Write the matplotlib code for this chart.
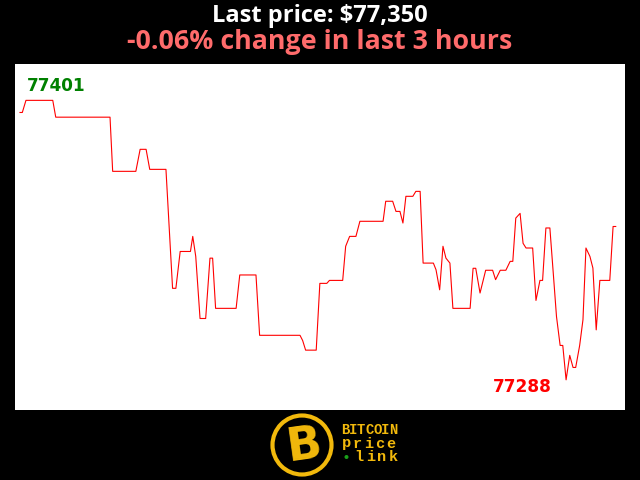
import matplotlib
matplotlib.use("Agg")
import matplotlib.pyplot as plt
from matplotlib.patches import Ellipse

# minutes since start of the 3-hour window (vertices of the price line)
minutes = [0.0, 0.7, 1.8, 9.9, 10.8, 27.2, 28.0, 35.0, 36.3, 38.1, 39.2, 44.1,
           46.1, 47.1, 48.4, 51.5, 52.2, 53.1, 54.4, 56.1, 57.4, 58.2, 59.1,
           65.3, 66.4, 71.3, 72.4, 84.6, 85.4, 86.3, 89.5, 90.6, 92.7, 93.5,
           97.5, 98.4, 99.6, 101.5, 102.7, 109.7, 110.5, 112.6, 113.6, 114.8,
           115.7, 116.6, 118.7, 119.6, 120.9, 121.8, 124.9, 125.7, 126.8,
           127.8, 128.7, 129.9, 130.8, 136.0, 136.9, 137.7, 139.0, 140.7,
           142.8, 143.7, 145.1, 146.8, 148.1, 148.9, 149.8, 151.1, 152.0,
           152.9, 154.9, 155.9, 157.1, 157.9, 158.9, 160.1, 161.2, 162.1,
           163.2, 164.0, 165.0, 166.1, 167.1, 167.9, 169.1, 170.1, 171.0,
           172.2, 173.1, 174.1, 175.2, 178.2, 179.2, 180.0]
prices = [77396.1, 77396.1, 77401.0, 77401.0, 77394.2, 77394.2, 77372.3, 77372.3,
          77381.2, 77381.2, 77373.1, 77373.1, 77325.0, 77325.0, 77339.9, 77339.9,
          77346.0, 77337.9, 77312.8, 77312.8, 77337.2, 77337.2, 77316.9, 77316.9,
          77330.4, 77330.4, 77306.0, 77306.0, 77303.9, 77300.0, 77300.0, 77327.0,
          77327.0, 77328.2, 77328.2, 77342.0, 77346.0, 77346.0, 77352.1, 77352.1,
          77360.2, 77360.2, 77356.1, 77356.1, 77351.4, 77362.2, 77362.2, 77364.2,
          77364.2, 77335.2, 77335.2, 77332.5, 77324.4, 77342.0, 77337.2, 77335.2,
          77316.9, 77316.9, 77333.1, 77333.1, 77323.1, 77332.3, 77332.3, 77328.5,
          77332.3, 77332.3, 77335.9, 77335.9, 77353.4, 77355.3, 77343.2, 77341.3,
          77341.3, 77320.1, 77328.2, 77328.2, 77349.4, 77349.4, 77329.8, 77313.6,
          77301.9, 77301.9, 77288.0, 77297.9, 77293.0, 77293.0, 77301.9, 77312.3,
          77341.3, 77337.9, 77333.2, 77308.2, 77328.2, 77328.2, 77350.0, 77350.0]

last_price = 77350
pct_change = -0.06
hours = 3
high_label = "77401"
low_label = "77288"

W, H = 640, 480
fig = plt.figure(figsize=(6.4, 4.8), dpi=100, facecolor="black")
ax = fig.add_axes([15/W, 1-410/H, 610/W, 346/H])
ax.set_facecolor("white")
ax.plot(minutes, prices, color="#ff0000", lw=0.8)
ax.set_xlim(-1.51, 182.8)
ax.set_ylim(77275.8, 77415.7)
ax.set_xticks([])
ax.set_yticks([])
for s in ax.spines.values():
    s.set_visible(False)

imax = prices.index(max(prices))
imin = prices.index(min(prices))
ax.annotate(high_label, (minutes[imax], prices[imax]), xytext=(1, 9),
            textcoords="offset pixels", ha="left", va="baseline",
            color="#008000", fontsize=12.2, fontweight="bold", family="DejaVu Sans")
ax.annotate(low_label, (minutes[imin], prices[imin]), xytext=(-44, -12),
            textcoords="offset pixels", ha="center", va="baseline",
            color="#ff0000", fontsize=12.2, fontweight="bold", family="DejaVu Sans")

fig.text(0.5, 1-16/H, f"Last price: ${last_price:,}", ha="center", va="center",
         color="white", fontsize=17, fontweight="bold", family="Open Sans")
fig.text(0.5, 1-42/H, f"{pct_change:.2f}% change in last {hours} hours",
         ha="center", va="center", color="#ff6b6b", fontsize=19.3,
         fontweight="bold", family="Open Sans")

# logo
gold = "#f2b90c"
fig.patches.append(Ellipse((302/W, 1-445/H), 59/W, 59/H, transform=fig.transFigure,
                           facecolor="black", edgecolor=gold, lw=3))
fig.text(304/W, 1-446/H, "B", ha="center", va="center", color=gold,
         fontsize=33, fontweight="bold", family="DejaVu Sans", rotation=8)


def spaced(word, x0, y, adv, size):
    for i, ch in enumerate(word):
        fig.text((x0 + i * adv) / W, 1 - y / H, ch, ha="center", va="baseline",
                 color=gold, fontsize=size, fontweight="bold",
                 family="Liberation Mono")


spaced("BITCOIN", 345, 434, 8.1, 10)
spaced("price", 346.5, 447.5, 11.0, 11)
spaced("link", 359, 461, 11.5, 11)
fig.patches.append(Ellipse((346.5/W, 1-457/H), 4/W, 4/H, transform=fig.transFigure,
                           facecolor="#1aa01a", edgecolor="none"))

fig.savefig("out.png", dpi=100, facecolor="black")
